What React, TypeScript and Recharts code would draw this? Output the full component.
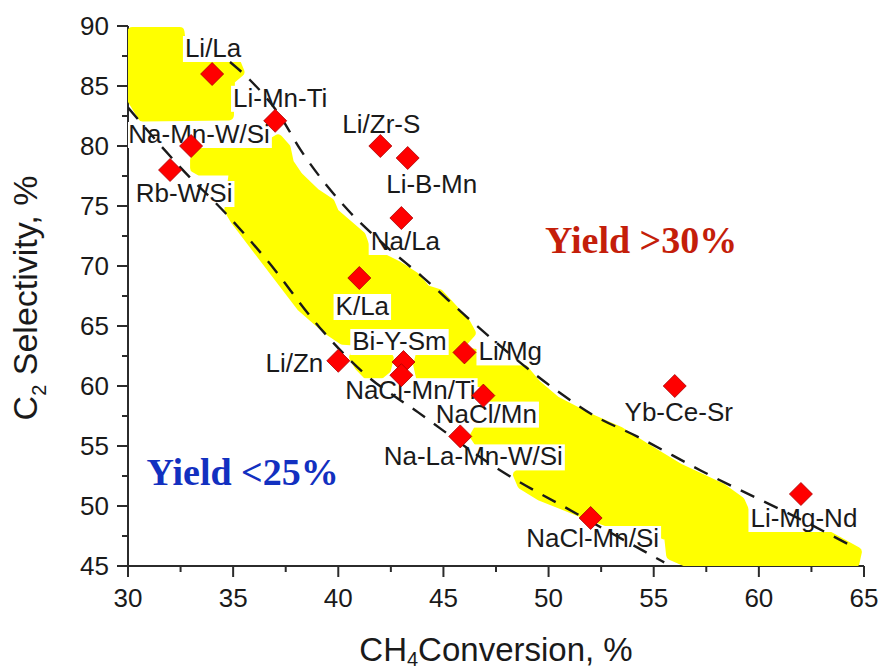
import { Label, Scatter, ScatterChart, XAxis, YAxis } from 'recharts';

const catalysts = ['Li/La', 'Li-Mn-Ti', 'Na-Mn-W/Si', 'Rb-W/Si', 'Li/Zr-S', 'Li-B-Mn', 'Na/La', 'K/La', 'Bi-Y-Sm', 'Li/Zn', 'NaCl-Mn/Ti', 'Li/Mg', 'NaCl/Mn', 'Na-La-Mn-W/Si', 'Yb-Ce-Sr', 'NaCl-Mn/Si', 'Li-Mg-Nd'];
const ch4Conversion = [34, 37, 33, 32, 42, 43.3, 43, 41, 43.1, 40, 43, 46, 46.9, 45.8, 56, 52, 62];
const c2Selectivity = [86, 82.1, 80, 78, 80, 79, 74, 69, 62, 62.1, 60.9, 62.8, 59.2, 55.8, 60, 49, 51];

// dashed yield boundaries
const yield30Conv = [34.85, 35.8, 37.2, 38.2, 39.5, 40.6, 42.3, 44.0, 46.4, 50.4, 52.1, 54.2, 57.3, 62.3, 64.6];
const yield30Sel = [87.0, 85.5, 82.6, 79.7, 76.6, 74.4, 71.6, 69.1, 65.3, 59.6, 57.6, 55.8, 52.9, 48.6, 46.5];
const yield25Conv = [30, 32.5, 34.8, 36.6, 39.1, 41.2, 43.8, 47.5, 51.6, 55.5];
const yield25Sel = [83.2, 78.2, 74.1, 70.5, 64.9, 61.1, 57.8, 53.2, 49.1, 45.3];

// hand-shaded (yellow) region outlines, [conversion, selectivity]
const shadeTopLeft = [[30.2, 89.5], [32.45, 89.5], [32.6, 87.2], [33.42, 87.05], [34.47, 87.3], [35.13, 86.9], [35.3, 86.17], [34.85, 85.5], [34.8, 82.55], [30.7, 82.45], [30.2, 83.9]];
const shadeUpper = [[33.19, 78.83], [33.6, 79.85], [36.66, 80.05], [37.13, 80.55], [37.5, 79.83], [37.65, 78.58], [38.1, 77.42], [38.9, 76.08], [39.6, 75.25], [39.8, 74.42], [41.07, 72.5], [41.31, 71.33], [42.83, 70.0], [43.64, 69.08], [44.17, 68.0], [44.78, 67.67], [46.02, 65.33], [46.3, 64.42], [46.0, 63.85], [45.22, 63.3], [40.22, 63.85], [39.5, 64.7], [38.25, 66.6], [35.1, 73.83], [34.82, 74.67], [34.95, 76.75], [35.05, 77.95], [33.42, 77.95], [33.19, 78.17]];
const shadeSmall = [[40.9, 62.8], [42.1, 62.9], [42.4, 62.33], [42.27, 61.4], [41.85, 60.8], [41.45, 60.85], [41.0, 61.67], [40.75, 62.4]];
const shadeLower = [[43.95, 62.8], [45.07, 63.05], [47.69, 62.38], [48.8, 61.4], [49.4, 60.15], [50.35, 58.73], [51.92, 57.32], [53.35, 56.23], [54.63, 54.82], [56.2, 53.15], [58.24, 51.48], [59.1, 50.4], [59.52, 48.73], [61.48, 48.55], [63.33, 47.48], [64.66, 46.17], [64.55, 45.3], [56.75, 45.2], [55.83, 45.9], [55.73, 47.5], [54.35, 48.37], [53.06, 48.54], [51.49, 49.54], [49.59, 50.87], [48.74, 51.8], [48.55, 52.6], [49.12, 53.15], [50.54, 53.15], [50.54, 54.92], [46.8, 55.05], [46.5, 55.83], [46.7, 56.45], [47.1, 57.17], [47.1, 60.3], [43.95, 60.6], [43.8, 61.75]];

const xTicks = [30, 32.5, 35, 37.5, 40, 42.5, 45, 47.5, 50, 52.5, 55, 57.5, 60, 62.5, 65];
const yTicks = [45, 47.5, 50, 52.5, 55, 57.5, 60, 62.5, 65, 67.5, 70, 72.5, 75, 77.5, 80, 82.5, 85, 87.5, 90];
const yTicksRight = [45, 50, 55, 60, 65, 70, 75, 80, 85, 90];

const annotations = [
  { x: 54.4, y: 71.1, text: 'Yield >30%' },
  { x: 35.45, y: 51.75, text: 'Yield <25%' },
];
const annotationColor: Record<string, string> = { 'Yield >30%': '#c41e0a', 'Yield <25%': '#1230c0' };

// label offset from the marker: dx, baseline dy, anchor
const labelPlace: Record<string, [number, number, string]> = {
  'Li/La': [1, -17, 'middle'],
  'Li-Mn-Ti': [5, -14, 'middle'],
  'Na-Mn-W/Si': [8, -3, 'middle'],
  'Rb-W/Si': [14, 32, 'middle'],
  'Li/Zr-S': [1, -13, 'middle'],
  'Li-B-Mn': [24, 35, 'middle'],
  'Na/La': [4, 32, 'middle'],
  'K/La': [3, 37, 'middle'],
  'Bi-Y-Sm': [-4, -12, 'middle'],
  'Li/Zn': [-15, 11, 'end'],
  'NaCl-Mn/Ti': [9, 24, 'middle'],
  'Li/Mg': [14, 8, 'start'],
  'NaCl/Mn': [3, 27, 'middle'],
  'Na-La-Mn-W/Si': [13, 29, 'middle'],
  'Yb-Ce-Sr': [4, 35, 'middle'],
  'NaCl-Mn/Si': [2, 29, 'middle'],
  'Li-Mg-Nd': [3, 33, 'middle'],
};

const FONT = "'Liberation Sans', Arial, sans-serif";
const AXIS = '#2b2b2b';
const YELLOW = '#ffff00';

const points = catalysts.map((name, i) => ({ name, x: ch4Conversion[i], y: c2Selectivity[i] }));
const toXY = (xs: number[], ys: number[]) => xs.map((x, i) => ({ x, y: ys[i] }));
const pairs = (arr: number[][]) => arr.map(([x, y]) => ({ x, y }));

const measureCtx = typeof document !== 'undefined' ? document.createElement('canvas').getContext('2d') : null;
const textWidth = (s: string, font: string) => {
  if (!measureCtx) return s.length * 14;
  measureCtx.font = font;
  return measureCtx.measureText(s).width;
};

const noDot = () => <g />;

const Diamond = (props: any) => {
  const { cx, cy } = props;
  const r = 11.5;
  return <polygon points={`${cx},${cy - r} ${cx + r},${cy} ${cx},${cy + r} ${cx - r},${cy}`} fill="#ff0000" stroke="#a80000" strokeWidth={0.8} />;
};

const CatalystLabel = (props: any) => {
  const { cx, cy, payload } = props;
  const [dx, dy, anchor] = labelPlace[payload.name];
  const w = textWidth(payload.name, `26px ${FONT}`);
  const x = cx + dx;
  const base = cy + dy;
  const left = anchor === 'middle' ? x - w / 2 : anchor === 'end' ? x - w : x;
  return (
    <g>
      <rect x={left - 2} y={base - 21} width={w + 4} height={26} fill="#ffffff" />
      <text x={x} y={base} textAnchor={anchor} fontSize={26} fontFamily={FONT} fill="#1a1a1a">{payload.name}</text>
    </g>
  );
};

const Annotation = (props: any) => {
  const { cx, cy, payload } = props;
  return (
    <text x={cx} y={cy} textAnchor="middle" fontSize={38} fontWeight="bold" fontFamily="'Liberation Serif', 'Times New Roman', serif" fill={annotationColor[payload.text]}>
      {payload.text}
    </text>
  );
};

const LeftTick = (props: any) => {
  const { x, y, payload } = props;
  const major = payload.value % 5 === 0;
  return (
    <g>
      <line x1={x - (major ? 11 : 6)} x2={x} y1={y} y2={y} stroke={AXIS} strokeWidth={2} />
      {major && <text x={x - 19} y={y} dy={9} textAnchor="end" fontSize={26} fontFamily={FONT} fill="#1a1a1a">{payload.value}</text>}
    </g>
  );
};

const RightTick = (props: any) => {
  const { x, y, payload } = props;
  const major = payload.value % 10 === 0;
  return <line x1={x - (major ? 11 : 6)} x2={x} y1={y} y2={y} stroke={AXIS} strokeWidth={2} />;
};

const BottomTick = (props: any) => {
  const { x, y, payload } = props;
  const major = payload.value % 5 === 0;
  return (
    <g>
      <line x1={x} x2={x} y1={y} y2={y + (major ? 11 : 6)} stroke={AXIS} strokeWidth={2} />
      {major && <text x={x} y={y + 41} textAnchor="middle" fontSize={26} fontFamily={FONT} fill="#1a1a1a">{payload.value}</text>}
    </g>
  );
};

const XTitle = (props: any) => {
  const { viewBox } = props;
  const cx = viewBox.x + viewBox.width / 2;
  return (
    <text x={cx} y={viewBox.y + 95} textAnchor="middle" fontSize={33} fontFamily={FONT} fill="#1a1a1a">
      CH<tspan dy={5} fontSize={20}>4</tspan><tspan dy={-5}>Conversion, %</tspan>
    </text>
  );
};

const YTitle = (props: any) => {
  const { viewBox } = props;
  const cy = viewBox.y + viewBox.height / 2 + 2;
  const x = 37;
  return (
    <text transform={`rotate(-90 ${x} ${cy})`} x={x} y={cy} textAnchor="middle" fontSize={34} fontFamily={FONT} fill="#1a1a1a">
      C<tspan dy={9} fontSize={20}>2</tspan><tspan dy={-9}> Selectivity,  %</tspan>
    </text>
  );
};

const shadeLine = { stroke: YELLOW, strokeWidth: 10, fill: YELLOW, strokeLinejoin: 'round' };

const App = () => {
  return (
    <div style={{ position: 'absolute', left: 0, top: 0, width: 882, height: 670, background: '#fff' }}>
      <ScatterChart width={882} height={670} margin={{ top: 26, right: 18, bottom: 0, left: 0 }}>
        <XAxis type="number" dataKey="x" domain={[30, 65]} ticks={xTicks} interval={0} allowDataOverflow height={104}
          axisLine={{ stroke: AXIS, strokeWidth: 2 }} tickLine={false} tickSize={0} tickMargin={0} tick={<BottomTick />}>
          <Label content={XTitle} />
        </XAxis>
        <XAxis xAxisId="top" orientation="top" type="number" domain={[30, 65]} allowDataOverflow height={0}
          axisLine={{ stroke: AXIS, strokeWidth: 2 }} tick={false} tickLine={false} />
        <YAxis type="number" dataKey="y" domain={[45, 90]} ticks={yTicks} interval={0} allowDataOverflow width={128}
          axisLine={{ stroke: AXIS, strokeWidth: 2 }} tickLine={false} tickSize={0} tickMargin={0} tick={<LeftTick />}>
          <Label content={YTitle} />
        </YAxis>
        <YAxis yAxisId="right" orientation="right" type="number" domain={[45, 90]} ticks={yTicksRight} interval={0} allowDataOverflow width={0}
          axisLine={{ stroke: AXIS, strokeWidth: 2 }} tickLine={false} tickSize={0} tickMargin={0} tick={<RightTick />} />

        <Scatter data={pairs(shadeTopLeft)} shape={noDot} line={shadeLine} lineType="joint" lineJointType="linearClosed" isAnimationActive={false} />
        <Scatter data={pairs(shadeUpper)} shape={noDot} line={shadeLine} lineType="joint" lineJointType="linearClosed" isAnimationActive={false} />
        <Scatter data={pairs(shadeSmall)} shape={noDot} line={shadeLine} lineType="joint" lineJointType="linearClosed" isAnimationActive={false} />
        <Scatter data={pairs(shadeLower)} shape={noDot} line={shadeLine} lineType="joint" lineJointType="linearClosed" isAnimationActive={false} />

        <Scatter data={points} shape={<CatalystLabel />} isAnimationActive={false} />

        <Scatter data={toXY(yield30Conv, yield30Sel)} shape={noDot} line={{ stroke: '#1a1a1a', strokeWidth: 2.4, strokeDasharray: '15 11' }} lineType="joint" lineJointType="monotoneX" isAnimationActive={false} />
        <Scatter data={toXY(yield25Conv, yield25Sel)} shape={noDot} line={{ stroke: '#1a1a1a', strokeWidth: 2.4, strokeDasharray: '15 11' }} lineType="joint" lineJointType="monotoneX" isAnimationActive={false} />

        <Scatter data={points} shape={<Diamond />} isAnimationActive={false} />
        <Scatter data={annotations} shape={<Annotation />} isAnimationActive={false} />
      </ScatterChart>
    </div>
  );
};

export default App;
